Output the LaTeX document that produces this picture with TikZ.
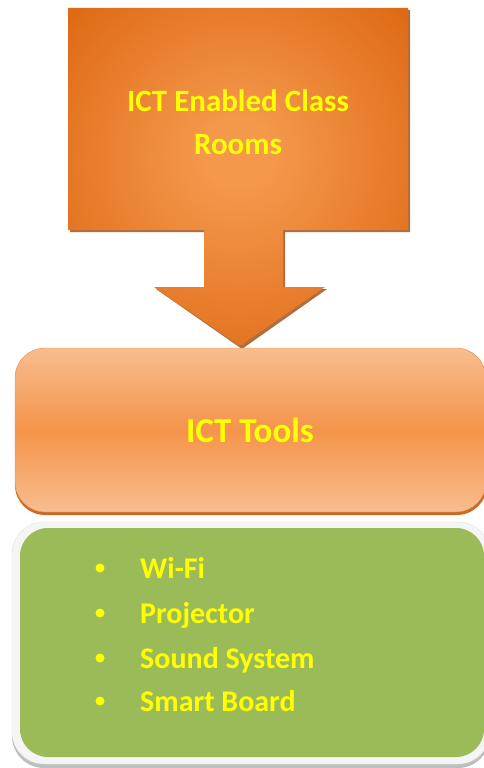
\documentclass[tikz,border=0pt]{standalone}
\usepackage{fontspec}
\setmainfont{Carlito}
\definecolor{ordark}{HTML}{DD6610}
\definecolor{orlight}{HTML}{F4984C}
\definecolor{orshadow}{HTML}{9A4A10}
\definecolor{tooltop}{HTML}{F8BD8F}
\definecolor{toolmid}{HTML}{F5944A}
\definecolor{tooledge}{HTML}{E88A45}
\definecolor{toolshadow}{HTML}{C96A25}
\definecolor{greenfill}{HTML}{9BBB59}
\definecolor{txtyellow}{HTML}{FFFF00}
\pgfdeclareradialshading{calloutrad}{\pgfpoint{0bp}{4bp}}{color(0bp)=(orlight); color(5bp)=(orlight); color(36bp)=(ordark); color(50bp)=(ordark)}
\tikzset{
  labeltext/.style={text=txtyellow, font=\bfseries\fontsize{31}{43}\selectfont, align=center, inner sep=0pt},
  itemtext/.style={text=txtyellow, font=\bfseries\fontsize{30}{32}\selectfont, anchor=base west, inner sep=0pt},
  bulletdot/.style={circle, fill=txtyellow, minimum size=9pt, inner sep=0pt}
}
\begin{document}
\begin{tikzpicture}[x=1pt,y=-1pt]
\useasboundingbox (0,0) rectangle (484,768);
\clip (0,0) rectangle (484,768);
% top arrow callout: shadow
\fill[orshadow!80] (70,10) -- (410,10) -- (410,232) -- (285,232) -- (285,289) -- (327,289) -- (242,349) -- (156,289) -- (206,289) -- (206,232) -- (70,232) -- cycle;
% top arrow callout
\shade[shading=calloutrad] (68,8) -- (408,8) -- (408,230) -- (283,230) -- (283,287) -- (325,287) -- (240,346) -- (154,287) -- (204,287) -- (204,230) -- (68,230) -- cycle;
\node[labeltext] (enabled) at (238,122) {ICT Enabled Class\\Rooms};
% ICT Tools box
\fill[toolshadow, rounded corners=30pt] (15,352) rectangle (487,515);
\shade[top color=tooltop, bottom color=tooltop, middle color=toolmid, draw=tooledge, rounded corners=30pt] (15,348) rectangle (486,512);
\node[labeltext, font=\bfseries\fontsize{35}{40}\selectfont] (tools) at (250,430) {ICT Tools};
% green box
\fill[black!25, rounded corners=32pt] (12,526) rectangle (490,768);
\fill[white!96!black, draw=black!12, rounded corners=32pt] (12,522) rectangle (490,764);
\fill[greenfill, rounded corners=28pt] (20,528) rectangle (484,757);
\foreach \y/\t/\n in {578/Wi-Fi/wifi, 623/Projector/proj, 668/Sound System/sound, 711/Smart Board/board}{
  \node[bulletdot] (b\n) at (100,\y-10) {};
  \node[itemtext] (\n) at (140,\y) {\t};
}
\end{tikzpicture}
\end{document}
